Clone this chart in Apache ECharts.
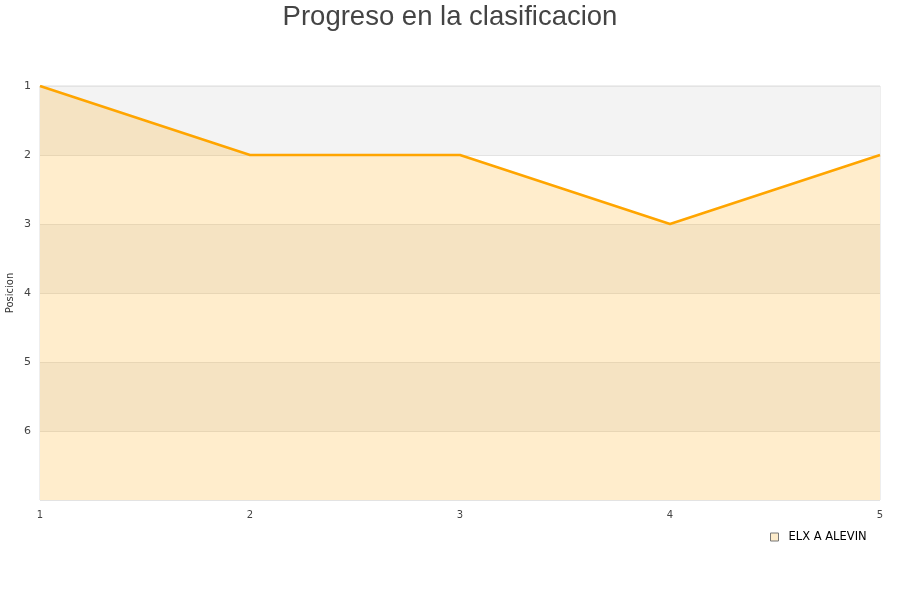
<!DOCTYPE html>
<html>
<head>
<meta charset="utf-8">
<script src="https://cdn.jsdelivr.net/npm/echarts@6/dist/echarts.min.js"></script>
<style>html,body{margin:0;padding:0;background:#fff}#c{width:900px;height:600px}</style>
</head>
<body>
<div id="c"></div>
<script>
var jornadas = [1, 2, 3, 4, 5];
var posiciones = [1, 2, 2, 3, 2];
var seriesName = 'ELX A ALEVIN';
var yTicks = [1, 2, 3, 4, 5, 6];

var chart = echarts.init(document.getElementById('c'), null, {renderer: 'canvas'});
chart.setOption({
  animation: false,
  backgroundColor: '#fff',
  title: {
    text: 'Progreso en la clasificacion',
    left: 'center', top: -2,
    textStyle: {fontFamily: 'Liberation Sans', fontSize: 27.5, fontWeight: 'normal', color: '#444'}
  },
  legend: {
    data: [seriesName],
    left: 765, top: 526,
    icon: 'rect', itemWidth: 8, itemHeight: 8, itemGap: 6,
    itemStyle: {color: '#fdeccb', borderColor: '#777', borderWidth: 1},
    textStyle: {fontFamily: 'DejaVu Sans', fontSize: 11.5, color: '#000', padding: [0, 0, 0, 5]}
  },
  grid: {left: 40, right: 20, top: 86, bottom: 100, containLabel: false, outerBoundsMode: 'none',
    show: true, borderColor: '#ddd', borderWidth: 1, backgroundColor: 'transparent'},
  xAxis: {
    type: 'value', min: 1, max: 5, interval: 1,
    axisLine: {show: false}, axisTick: {show: false}, splitLine: {show: false},
    axisLabel: {fontFamily: 'DejaVu Sans', fontSize: 10, color: '#444', margin: 10}
  },
  yAxis: {
    type: 'value', inverse: true, min: 1, max: 7, interval: 1,
    name: 'Posicion', nameLocation: 'middle', nameGap: 25, nameRotate: 90, nameMoveOverlap: false,
    nameTextStyle: {fontFamily: 'DejaVu Sans', fontSize: 10, color: '#333'},
    axisLine: {show: false}, axisTick: {show: false},
    axisLabel: {fontFamily: 'DejaVu Sans', fontSize: 11, color: '#444', margin: 9,
      formatter: function (v) { return yTicks.indexOf(v) >= 0 ? String(v) : ''; }},
    splitLine: {show: true, lineStyle: {color: '#e3e3e3', width: 1}},
    splitArea: {show: true, areaStyle: {color: ['#f3f3f3', '#ffffff']}}
  },
  series: [{
    name: seriesName,
    type: 'line',
    data: jornadas.map(function (j, i) { return [j, posiciones[i]]; }),
    showSymbol: false, symbol: 'none',
    lineStyle: {color: '#ffa500', width: 2.5},
    itemStyle: {color: '#ffa500'},
    areaStyle: {origin: 'end', color: '#ffa500', opacity: 0.2}
  }]
});
</script>
</body>
</html>
